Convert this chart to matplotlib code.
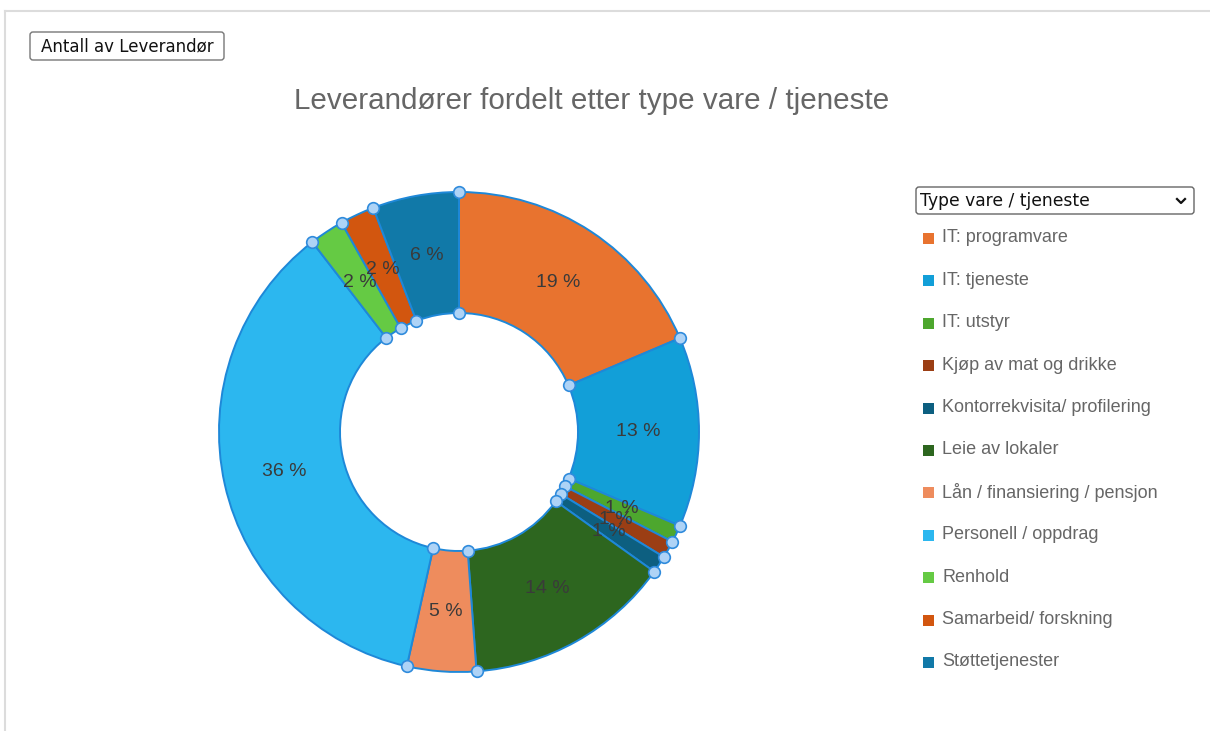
import numpy as np
import matplotlib
matplotlib.use("Agg")
import matplotlib.pyplot as plt
from matplotlib.patches import FancyBboxPatch, Rectangle

# data
categories = ["IT: programvare", "IT: tjeneste", "IT: utstyr", "Kjøp av mat og drikke",
              "Kontorrekvisita/ profilering", "Leie av lokaler", "Lån / finansiering / pensjon",
              "Personell / oppdrag", "Renhold", "Samarbeid/ forskning", "Støttetjenester"]
counts = [16, 11, 1, 1, 1, 12, 4, 31, 2, 2, 5]
colors = ["#E8732F", "#129FD8", "#4DA72E", "#9B3E14", "#0D5F80", "#2D661F",
          "#EE8C5D", "#2CB7EF", "#65CA44", "#D2560F", "#1179A8"]

sans = ["Liberation Sans", "DejaVu Sans"]

W, H = 1210, 731
fig = plt.figure(figsize=(W / 100, H / 100), dpi=100)

# background layer in pixel coords
bg = fig.add_axes([0, 0, 1, 1])
bg.set_xlim(0, W)
bg.set_ylim(H, 0)
bg.axis("off")
bg.plot([5, W], [11, 11], color="#dcdcdc", lw=1.5)
bg.plot([5, 5], [11, H], color="#dcdcdc", lw=1.5)

# button
bg.add_patch(FancyBboxPatch((30, 32), 194, 28, boxstyle="round,pad=0,rounding_size=3",
                            fc="white", ec="#777777", lw=1))
bg.text(127, 46, "Antall av Leverandør", ha="center", va="center", fontsize=12,
        family="DejaVu Sans", color="#111111")

# title
bg.text(592, 101, "Leverandører fordelt etter type vare / tjeneste", ha="center", va="center",
        fontsize=21.3, family=sans, color="#666666")

# dropdown
bg.add_patch(FancyBboxPatch((916, 187), 278, 27, boxstyle="round,pad=0,rounding_size=3",
                            fc="white", ec="#666666", lw=1))
bg.text(920, 201, "Type vare / tjeneste", ha="left", va="center", fontsize=12.3,
        family="DejaVu Sans", color="#111111")
bg.plot([1177, 1181, 1185], [199, 203, 199], color="#111111", lw=1.6)

# legend
for i, (name, col) in enumerate(zip(categories, colors)):
    y = 238 + i * 42.4
    bg.add_patch(Rectangle((923, y - 5), 11, 11, fc=col, ec="none"))
    bg.text(942, y, name, ha="left", va="center", fontsize=13, family=sans, color="#666666")

# donut
cx, cy, R = 459, 432, 240
ax = fig.add_axes([(cx - R * 1.02) / W, (H - cy - R * 1.02) / H, 2.04 * R / W, 2.04 * R / H])
inner = 119 / R
wedges, texts, autotexts = ax.pie(
    counts, colors=colors, startangle=90, counterclock=False, radius=1,
    wedgeprops=dict(width=1 - inner, edgecolor="#1E88D8", linewidth=1.4),
    autopct=lambda p: f"{p:.0f} %", pctdistance=(1 + inner) / 2,
    textprops=dict(fontsize=14, family=sans, color="#3a3a3a"))
ax.set_xlim(-1.02, 1.02)
ax.set_ylim(-1.02, 1.02)
ax.axis("off")

# selection handles at slice borders
cum = np.concatenate([[0], np.cumsum(counts)[:-1]])
theta = np.deg2rad(90 - 360 * cum / np.sum(counts))
for r in (1, inner):
    ax.scatter(r * np.cos(theta), r * np.sin(theta), s=70, facecolor="#AED3F6",
               edgecolor="#2F8BDC", linewidth=1.2, zorder=5, clip_on=False)

fig.savefig("out.png", dpi=100)
